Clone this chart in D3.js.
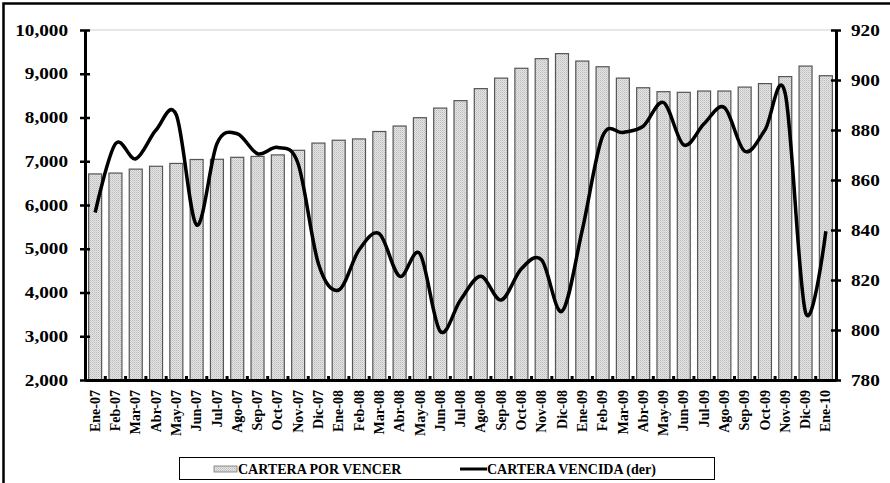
<!DOCTYPE html>
<html>
<head>
<meta charset="utf-8">
<script src="https://cdn.jsdelivr.net/npm/d3@7"></script>
<style>
  body { margin: 0; background: #fff; }
</style>
</head>
<body>
<div id="chart"></div>
<script>
// --------------------------------------
//  Data
// --------------------------------------

const months = ["Ene-07","Feb-07","Mar-07","Abr-07","May-07","Jun-07","Jul-07","Ago-07","Sep-07","Oct-07","Nov-07","Dic-07",
  "Ene-08","Feb-08","Mar-08","Abr-08","May-08","Jun-08","Jul-08","Ago-08","Sep-08","Oct-08","Nov-08","Dic-08",
  "Ene-09","Feb-09","Mar-09","Abr-09","May-09","Jun-09","Jul-09","Ago-09","Sep-09","Oct-09","Nov-09","Dic-09","Ene-10"];

const porVencer = [6710, 6730, 6820, 6885, 6950, 7040, 7045, 7090, 7110, 7145, 7250, 7415,
  7480, 7510, 7680, 7805, 7995, 8215, 8385, 8660, 8900, 9125, 9345, 9460,
  9290, 9160, 8900, 8680, 8590, 8575, 8605, 8605, 8695, 8775, 8935, 9175, 8955];

const vencida = [847, 874.5, 868.5, 880, 886, 842, 874.5, 878.5, 870.5, 873, 866.5, 826.5,
  816, 832, 838.5, 821.5, 830.5, 799.5, 812, 821.5, 812, 824.5, 828, 807.5,
  840, 877.5, 879, 881.5, 891, 874, 882.5, 889, 871.5, 880, 894.5, 807, 839.5];

const leftTicks = [2000, 3000, 4000, 5000, 6000, 7000, 8000, 9000, 10000];
const rightTicks = [780, 800, 820, 840, 860, 880, 900, 920];

const legendLabels = ["CARTERA POR VENCER", "CARTERA VENCIDA (der)"];

// --------------------------------------
//  Canvas
// --------------------------------------

const width = 890, height = 483;
const plot = { left: 85, right: 836, top: 30, bottom: 380 };
const font = "'Liberation Serif', 'Times New Roman', Tinos, 'DejaVu Serif', serif";

const svg = d3.select("#chart")
  .append("svg")
    .attr("width", width)
    .attr("height", height)
    .attr("font-family", font)
    .attr("font-weight", "bold");

const defs = svg.append("defs");
const pat = defs.append("pattern")
    .attr("id", "dots")
    .attr("width", 2)
    .attr("height", 2)
    .attr("patternUnits", "userSpaceOnUse");
pat.append("rect").attr("width", 2).attr("height", 2).attr("fill", "#e4e4e4");
pat.append("rect").attr("width", 1).attr("height", 1).attr("fill", "#bcbcbc");
pat.append("rect").attr("x", 1).attr("y", 1).attr("width", 1).attr("height", 1).attr("fill", "#cfcfcf");

// outer frame (only top and left edges show)
svg.append("rect")
    .attr("x", 3.5).attr("y", 3.5)
    .attr("width", width + 20).attr("height", height + 20)
    .attr("fill", "none")
    .attr("stroke", "#000")
    .attr("stroke-width", 2.5);

// --------------------------------------
// Scales
// --------------------------------------

const x = d3.scaleBand()
    .domain(months)
    .range([plot.left, plot.right])
    .paddingInner(0.36)
    .paddingOuter(0.18);

const xb = d3.scaleBand()
    .domain(months)
    .range([plot.left, plot.right]);

const y = d3.scaleLinear()
    .domain([2000, 10000])
    .range([plot.bottom, plot.top]);

const y2 = d3.scaleLinear()
    .domain([780, 920])
    .range([plot.bottom, plot.top]);

// --------------------------------------
// Grid, bars, line
// --------------------------------------

svg.append("line")
    .attr("x1", plot.left).attr("x2", plot.right)
    .attr("y1", y(10000)).attr("y2", y(10000))
    .attr("stroke", "#cfcfcf")
    .attr("stroke-width", 1);

svg.append("g")
  .selectAll("rect")
  .data(porVencer)
  .join("rect")
    .attr("x", (d, i) => x(months[i]))
    .attr("y", d => y(d))
    .attr("width", x.bandwidth())
    .attr("height", d => y(2000) - y(d))
    .attr("fill", "url(#dots)")
    .attr("stroke", "#555")
    .attr("stroke-width", 1.2);

const line = d3.line()
    .x((d, i) => xb(months[i]) + xb.bandwidth() / 2)
    .y(d => y2(d))
    .curve(d3.curveCatmullRom.alpha(0));

svg.append("path")
    .datum(vencida)
    .attr("d", line)
    .attr("fill", "none")
    .attr("stroke", "#000")
    .attr("stroke-width", 3.5)
    .attr("stroke-linejoin", "round");

// --------------------------------------
// Axes
// --------------------------------------

const sx = 1.2;

const leftAxis = svg.append("g")
    .attr("transform", `translate(${plot.left},0)`)
    .call(d3.axisLeft(y).tickValues(leftTicks).tickFormat(d3.format(",")).tickSizeInner(5).tickSizeOuter(0));
leftAxis.selectAll(".tick line").clone().attr("x2", 5);
leftAxis.selectAll(".tick text")
    .attr("font-size", 16)
    .attr("x", -17 / sx)
    .attr("transform", `scale(${sx},1)`);

const rightAxis = svg.append("g")
    .attr("transform", `translate(${plot.right},0)`)
    .call(d3.axisRight(y2).tickValues(rightTicks).tickSizeInner(5).tickSizeOuter(0));
rightAxis.selectAll(".tick line").clone().attr("x2", -5);
rightAxis.selectAll(".tick text")
    .attr("font-size", 16)
    .attr("x", 15 / sx)
    .attr("transform", `scale(${sx},1)`);

const bottomAxis = svg.append("g")
    .attr("transform", `translate(0,${plot.bottom})`)
    .call(d3.axisBottom(xb).tickSize(0).tickPadding(0));
bottomAxis.selectAll(".tick text")
    .attr("font-size", 14)
    .attr("text-anchor", "end")
    .attr("transform", "rotate(-90)")
    .attr("x", -10)
    .attr("y", 0)
    .attr("dy", "0.33em");

// small tick marks between bars
svg.append("g")
  .selectAll("rect")
  .data(months.slice(1))
  .join("rect")
    .attr("x", d => xb(d) - 1.5)
    .attr("y", plot.bottom - 4)
    .attr("width", 3)
    .attr("height", 4)
    .attr("fill", "#000");

[leftAxis, rightAxis, bottomAxis].forEach(a => {
  a.attr("font-family", font).attr("font-weight", "bold");
  a.selectAll(".domain").attr("stroke", "#000").attr("stroke-width", 3);
  a.selectAll(".tick line").attr("stroke", "#000").attr("stroke-width", 2.5);
  a.selectAll("text").attr("fill", "#000");
});

// --------------------------------------
// Legend
// --------------------------------------

const legend = svg.append("g");

legend.append("rect")
    .attr("x", 179.5).attr("y", 457.5)
    .attr("width", 535).attr("height", 22)
    .attr("fill", "#fff")
    .attr("stroke", "#000")
    .attr("stroke-width", 1);

legend.append("rect")
    .attr("x", 214).attr("y", 466)
    .attr("width", 23).attr("height", 6)
    .attr("fill", "url(#dots)")
    .attr("stroke", "#777")
    .attr("stroke-width", 0.8);

legend.append("text")
    .attr("x", 238).attr("y", 474)
    .attr("font-size", 14)
    .text(legendLabels[0]);

legend.append("line")
    .attr("x1", 460).attr("x2", 487)
    .attr("y1", 469).attr("y2", 469)
    .attr("stroke", "#000")
    .attr("stroke-width", 3);

legend.append("text")
    .attr("x", 487).attr("y", 474)
    .attr("font-size", 14)
    .text(legendLabels[1]);
</script>
</body>
</html>
